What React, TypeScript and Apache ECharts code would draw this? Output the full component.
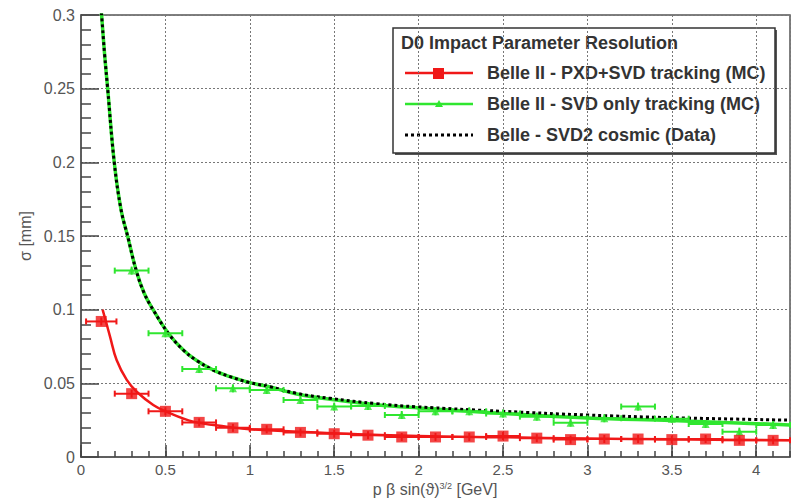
import React, { useEffect, useRef } from "react";
import * as echarts from "echarts";

// ---- data ----
const binCenters = [0.12, 0.3, 0.5, 0.7, 0.9, 1.1, 1.3, 1.5, 1.7, 1.9, 2.1, 2.3, 2.5, 2.7, 2.9, 3.1, 3.3, 3.5, 3.7, 3.9, 4.1];
const binHalfWidths = [0.09, 0.1, 0.1, 0.1, 0.1, 0.1, 0.1, 0.1, 0.1, 0.1, 0.1, 0.1, 0.1, 0.1, 0.1, 0.1, 0.1, 0.1, 0.1, 0.1, 0.1];
const pxdSvdValues = [0.092, 0.043, 0.031, 0.0235, 0.0198, 0.0188, 0.0167, 0.0158, 0.0148, 0.0136, 0.0136, 0.0136, 0.0142, 0.0128, 0.0118, 0.0122, 0.0122, 0.0118, 0.0122, 0.0113, 0.0113];
const svdOnlyCenters = [0.3, 0.5, 0.7, 0.9, 1.1, 1.3, 1.5, 1.7, 1.9, 2.1, 2.3, 2.5, 2.7, 2.9, 3.1, 3.3, 3.5, 3.7, 3.9, 4.1];
const svdOnlyValues = [0.1265, 0.084, 0.0597, 0.0466, 0.0455, 0.0387, 0.0342, 0.0346, 0.0285, 0.031, 0.031, 0.0295, 0.0274, 0.0233, 0.0263, 0.0342, 0.026, 0.0224, 0.0172, 0.0217];

const pxdSvdFitX = [0.128, 0.15, 0.172, 0.211, 0.271, 0.33, 0.428, 0.504, 0.665, 0.863, 1.0, 1.5, 2.0, 2.5, 3.0, 3.5, 4.2];
const pxdSvdFitY = [0.1, 0.091, 0.0817, 0.0658, 0.0523, 0.0443, 0.0353, 0.0308, 0.024, 0.0206, 0.0188, 0.0162, 0.0143, 0.0134, 0.0126, 0.012, 0.0114];

const cosmicX = [0.115, 0.122, 0.14, 0.158, 0.197, 0.237, 0.277, 0.326, 0.375, 0.428, 0.517, 0.606, 0.685, 0.784, 0.883, 1.0, 1.12, 1.278, 1.475, 1.75, 2.0, 2.5, 3.0, 3.5, 4.2];
const cosmicY = [0.31, 0.3, 0.273, 0.25, 0.2, 0.168, 0.1496, 0.127, 0.111, 0.0998, 0.084, 0.0726, 0.0655, 0.059, 0.0545, 0.0505, 0.0477, 0.0432, 0.0398, 0.0362, 0.034, 0.031, 0.0285, 0.0267, 0.025];

const svdOnlyFitX = [0.115, 0.122, 0.14, 0.158, 0.197, 0.237, 0.277, 0.326, 0.375, 0.428, 0.517, 0.606, 0.685, 0.784, 0.883, 1.0, 1.12, 1.278, 1.475, 1.75, 2.0, 2.5, 3.0, 3.5, 4.2];
const svdOnlyFitY = [0.31, 0.3, 0.273, 0.25, 0.2, 0.168, 0.1496, 0.127, 0.111, 0.0998, 0.084, 0.0726, 0.0655, 0.059, 0.0545, 0.0505, 0.0475, 0.0428, 0.0392, 0.0355, 0.0333, 0.0296, 0.0265, 0.0247, 0.0218];

const legendTitle = "D0 Impact Parameter Resolution";
const legendNames = [
  "Belle II - PXD+SVD tracking (MC)",
  "Belle II - SVD only tracking (MC)",
  "Belle - SVD2 cosmic (Data)",
];

const RED = "#f01818";
const GREEN = "#2fe62f";
const FONT = "'Liberation Sans', Arial, Helvetica, sans-serif";

function errorBars(color: string) {
  return (params: any, api: any) => {
    const x = api.value(0);
    const y = api.value(1);
    const e = api.value(2);
    const l = api.coord([x - e, y]);
    const r = api.coord([x + e, y]);
    const c = api.coord([x, y]);
    const style = { stroke: color, lineWidth: 2 };
    return {
      type: "group",
      children: [
        { type: "line", shape: { x1: l[0], y1: l[1], x2: r[0], y2: r[1] }, style },
        { type: "line", shape: { x1: l[0], y1: l[1] - 3, x2: l[0], y2: l[1] + 3 }, style },
        { type: "line", shape: { x1: r[0], y1: r[1] - 3, x2: r[0], y2: r[1] + 3 }, style },
        { type: "line", shape: { x1: c[0], y1: c[1] - 4, x2: c[0], y2: c[1] + 4 }, style },
      ],
    };
  };
}

export default function App() {
  const ref = useRef<HTMLDivElement>(null);
  useEffect(() => {
    if (!ref.current) return;
    const chart = echarts.init(ref.current, undefined, { renderer: "svg" });
    const zip = (xs: number[], ys: number[]) => xs.map((x, i) => [x, ys[i]]);
    const lx = 405, rx = 473;
    const rows = [73, 104, 135];
    const legendFont = `bold 18px ${FONT}`;
    chart.setOption({
      animation: false,
      backgroundColor: "#ffffff",
      grid: { left: 81, right: 2, top: 15, bottom: 45, show: true, borderColor: "#555", borderWidth: 1.5, backgroundColor: "#fff" },
      xAxis: [
        {
          type: "value",
          min: 0,
          max: 4.2,
          interval: 0.5,
          axisLine: { show: true, lineStyle: { color: "#555", width: 1.5 } },
          axisTick: { show: true, inside: true, length: 12, lineStyle: { color: "#444", width: 1.5 } },
          axisLabel: { show: true, margin: 5, color: "#555", fontSize: 15, fontFamily: FONT, showMaxLabel: false },
          splitLine: { show: true, lineStyle: { color: "#777", type: [2, 2], width: 1 } },
        },
        {
          type: "value",
          min: 0,
          max: 4.2,
          interval: 0.1,
          position: "bottom",
          axisLine: { show: false },
          axisTick: { show: true, inside: true, length: 6, lineStyle: { color: "#444", width: 1.5 } },
          axisLabel: { show: false },
          splitLine: { show: false },
        },
      ],
      yAxis: {
        type: "value",
        min: 0,
        max: 0.3,
        interval: 0.05,
        axisLine: { show: true, lineStyle: { color: "#555", width: 1.5 } },
        axisTick: { show: true, inside: true, length: 18, lineStyle: { color: "#444", width: 1.5 } },
        minorTick: { show: true, splitNumber: 5, length: 10, lineStyle: { color: "#444", width: 1.5 } },
        axisLabel: { show: true, margin: 6, color: "#555", fontSize: 16, fontFamily: FONT },
        splitLine: { show: true, lineStyle: { color: "#777", type: [2, 2], width: 1 } },
      },
      series: [
        {
          name: legendNames[1] + " fit",
          type: "line",
          data: zip(svdOnlyFitX, svdOnlyFitY),
          smooth: 0.4,
          showSymbol: false,
          lineStyle: { color: GREEN, width: 3.5 },
          z: 2,
        },
        {
          name: legendNames[2],
          type: "line",
          data: zip(cosmicX, cosmicY),
          smooth: 0.4,
          showSymbol: false,
          lineStyle: { color: "#000", width: 3, type: [3, 3] },
          z: 3,
        },
        {
          name: legendNames[0] + " fit",
          type: "line",
          data: zip(pxdSvdFitX, pxdSvdFitY),
          smooth: 0.4,
          showSymbol: false,
          lineStyle: { color: RED, width: 2.5 },
          z: 3,
        },
        {
          name: legendNames[1] + " errors",
          type: "custom",
          renderItem: errorBars(GREEN),
          data: svdOnlyCenters.map((x, i) => [x, svdOnlyValues[i], binHalfWidths[i + 1]]),
          encode: { x: 0, y: 1 },
          z: 4,
        },
        {
          name: legendNames[0] + " errors",
          type: "custom",
          renderItem: errorBars(RED),
          data: binCenters.map((x, i) => [x, pxdSvdValues[i], binHalfWidths[i]]),
          encode: { x: 0, y: 1 },
          z: 4,
        },
        {
          name: legendNames[1],
          type: "scatter",
          data: zip(svdOnlyCenters, svdOnlyValues),
          symbol: "triangle",
          symbolSize: 8,
          itemStyle: { color: GREEN },
          z: 5,
        },
        {
          name: legendNames[0],
          type: "scatter",
          data: zip(binCenters, pxdSvdValues),
          symbol: "rect",
          symbolSize: 11,
          itemStyle: { color: RED },
          z: 5,
        },
      ],
      graphic: [
        {
          type: "text",
          x: 25,
          y: 236,
          rotation: Math.PI / 2,
          style: { text: "σ [mm]", fill: "#555", font: `16px ${FONT}`, align: "center", verticalAlign: "middle" },
          silent: true,
        },
        {
          type: "text",
          x: 435,
          y: 489,
          silent: true,
          style: {
            text: "{a|p β sin(ϑ)}{s|3/2}{a| [GeV]}",
            align: "center",
            verticalAlign: "middle",
            rich: {
              a: { fontSize: 16, fontFamily: FONT, fill: "#555", color: "#555", lineHeight: 16, verticalAlign: "bottom" },
              s: { fontSize: 9, fontFamily: FONT, fill: "#555", color: "#555", lineHeight: 16, verticalAlign: "top" },
            },
          },
        },
        {
          type: "group",
          silent: true,
          z: 100,
          children: [
            { type: "rect", shape: { x: 395, y: 30, width: 382, height: 125 }, style: { fill: "#555" } },
            { type: "rect", shape: { x: 393, y: 28, width: 382, height: 125 }, style: { fill: "#fff", stroke: "#333", lineWidth: 1.5 } },
            { type: "text", x: 401, y: 43, style: { text: legendTitle, font: legendFont, fill: "#333", verticalAlign: "middle" } },
            { type: "line", shape: { x1: lx, y1: rows[0], x2: rx, y2: rows[0] }, style: { stroke: RED, lineWidth: 2.5 } },
            { type: "rect", shape: { x: 433, y: rows[0] - 5, width: 11, height: 11 }, style: { fill: RED } },
            { type: "text", x: 487, y: rows[0], style: { text: legendNames[0], font: legendFont, fill: "#333", verticalAlign: "middle" } },
            { type: "line", shape: { x1: lx, y1: rows[1], x2: rx, y2: rows[1] }, style: { stroke: GREEN, lineWidth: 2.5 } },
            { type: "polygon", shape: { points: [[439, rows[1] - 4], [443, rows[1] + 3], [435, rows[1] + 3]] }, style: { fill: GREEN } },
            { type: "text", x: 487, y: rows[1], style: { text: legendNames[1], font: legendFont, fill: "#333", verticalAlign: "middle" } },
            { type: "line", shape: { x1: lx, y1: rows[2], x2: rx, y2: rows[2] }, style: { stroke: "#000", lineWidth: 3, lineDash: [3, 3] } },
            { type: "text", x: 487, y: rows[2], style: { text: legendNames[2], font: legendFont, fill: "#333", verticalAlign: "middle" } },
          ],
        },
      ],
    });
    return () => chart.dispose();
  }, []);
  return <div ref={ref} style={{ position: "fixed", left: 0, top: 0, width: 792, height: 502 }} />;
}
